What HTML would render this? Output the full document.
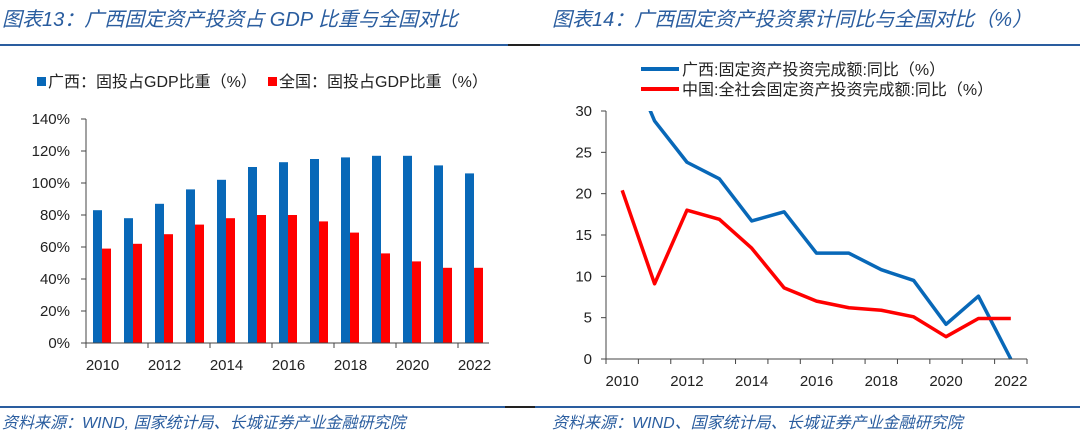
<!DOCTYPE html>
<html><head><meta charset="utf-8">
<style>
body{margin:0;width:1080px;height:435px;background:#fff;overflow:hidden;font-family:"Liberation Sans","Noto Sans CJK SC",sans-serif;}
.t{position:absolute;font-style:italic;color:#2a5d9f;font-size:20px;white-space:nowrap;}
.f{position:absolute;font-style:italic;color:#2a5d9f;font-size:16px;white-space:nowrap;}
</style></head><body>
<div class="t" style="left:2px;top:3px">图表13：广西固定资产投资占 GDP 比重与全国对比</div>
<div class="t" style="left:552px;top:3px">图表14：广西固定资产投资累计同比与全国对比（%）</div>
<div style="position:absolute;left:0;top:44px;width:1080px;height:2px;background:#2a5d9f"></div>
<div style="position:absolute;left:508px;top:44px;width:32px;height:2px;background:#222"></div>
<div style="position:absolute;left:0;top:406px;width:1080px;height:2px;background:#2a5d9f"></div>
<div style="position:absolute;left:505px;top:406px;width:30px;height:2px;background:#222"></div>
<div class="f" style="left:2px;top:409px">资料来源：WIND, 国家统计局、长城证券产业金融研究院</div>
<div class="f" style="left:552px;top:409px">资料来源：WIND、国家统计局、长城证券产业金融研究院</div>
<svg id="svg" width="1080" height="435" style="position:absolute;left:0;top:0" font-family="Liberation Sans, Noto Sans CJK SC, sans-serif"></svg>
<script>
const years=[2010,2011,2012,2013,2014,2015,2016,2017,2018,2019,2020,2021,2022];
const gxShare=[83,78,87,96,102,110,113,115,116,117,117,111,106];
const cnShare=[59,62,68,74,78,80,80,76,69,56,51,47,47];
const leftTicks=[0,20,40,60,80,100,120,140];
const gxGrowth=[38,28.8,23.8,21.8,16.7,17.8,12.8,12.8,10.8,9.5,4.2,7.6,0];
const cnGrowth=[20.4,9.1,18,16.9,13.4,8.6,7,6.2,5.9,5.1,2.7,4.9,4.9];
const rightTicks=[0,5,10,15,20,25,30];
const NS='http://www.w3.org/2000/svg',svg=document.getElementById('svg');
function mk(t,a,p){const e=document.createElementNS(NS,t);for(const k in a)e.setAttribute(k,a[k]);(p||svg).appendChild(e);return e;}
const L={x0:86,x1:489,y0:343,y1:119,max:140};
const lx=i=>L.x0+(L.x1-L.x0)/years.length*i, lw=(L.x1-L.x0)/years.length;
const ly=v=>L.y0-(L.y0-L.y1)*v/L.max;
const lg=mk('g',{});

leftTicks.forEach(v=>{mk('line',{x1:L.x0-5,x2:L.x0,y1:ly(v),y2:ly(v),stroke:'#444'},lg);
 const t=mk('text',{x:L.x0-16,y:ly(v)+5,'text-anchor':'end','font-size':15,fill:'#222'},lg);t.textContent=v+'%';
 });
years.forEach((y,i)=>{
 const b=mk('rect',{x:lx(i)+7,y:ly(gxShare[i]),width:9,height:L.y0-ly(gxShare[i]),fill:'#0868b8'},lg);
 
 const r=mk('rect',{x:lx(i)+16,y:ly(cnShare[i]),width:9,height:L.y0-ly(cnShare[i]),fill:'#ff0000'},lg);
 
 if(i%2==0){mk('line',{x1:lx(i),x2:lx(i),y1:L.y0,y2:L.y0+5,stroke:'#444'},lg);
  const t=mk('text',{x:lx(i)+lw/2+1,y:L.y0+27,'text-anchor':'middle','font-size':15,fill:'#222'},lg);t.textContent=y;
  }
});
mk('line',{x1:L.x0,x2:L.x0,y1:L.y1,y2:L.y0,stroke:'#444'},lg);
mk('line',{x1:L.x0,x2:L.x1,y1:L.y0,y2:L.y0,stroke:'#444'},lg);
const leg1=mk('g',{});
mk('rect',{x:37,y:77,width:9,height:9,fill:'#0868b8'},leg1);
let tt=mk('text',{x:48,y:87,'font-size':16,fill:'#222'},leg1);tt.textContent='广西：固投占GDP比重（%）';
mk('rect',{x:268,y:77,width:9,height:9,fill:'#ff0000'},leg1);
tt=mk('text',{x:279,y:87,'font-size':16,fill:'#222'},leg1);tt.textContent='全国：固投占GDP比重（%）';
const R={x0:606,x1:1027,y0:359,y1:111,max:30};
const rw=(R.x1-R.x0)/years.length, rx=i=>R.x0+rw*(i+0.5), ry=v=>R.y0-(R.y0-R.y1)*v/R.max;
const rg=mk('g',{});
rightTicks.forEach(v=>{mk('line',{x1:R.x0-5,x2:R.x0,y1:ry(v),y2:ry(v),stroke:'#444'},rg);
 const t=mk('text',{x:R.x0-14,y:ry(v)+5,'text-anchor':'end','font-size':15,fill:'#222'},rg);t.textContent=v;
 });
for(let i=0;i<=years.length;i++)mk('line',{x1:R.x0+rw*i,x2:R.x0+rw*i,y1:R.y0,y2:R.y0+5,stroke:'#444'},rg);
years.forEach((y,i)=>{if(i%2==0){const t=mk('text',{x:rx(i),y:R.y0+27,'text-anchor':'middle','font-size':15,fill:'#222'},rg);t.textContent=y;
 }});
mk('defs',{}).innerHTML='<clipPath id="cp"><rect x="606" y="111" width="430" height="252"/></clipPath>';
const p1=mk('polyline',{points:gxGrowth.map((v,i)=>rx(i)+','+ry(v)).join(' '),fill:'none',stroke:'#0868b8','stroke-width':3.5,'stroke-linejoin':'round','clip-path':'url(#cp)'},rg);

const p2=mk('polyline',{points:cnGrowth.map((v,i)=>rx(i)+','+ry(v)).join(' '),fill:'none',stroke:'#ff0000','stroke-width':3.5,'stroke-linejoin':'round'},rg);

mk('line',{x1:R.x0,x2:R.x0,y1:R.y1,y2:R.y0,stroke:'#444'},rg);
mk('line',{x1:R.x0,x2:R.x1,y1:R.y0,y2:R.y0,stroke:'#444'},rg);
const leg2=mk('g',{});
mk('line',{x1:641,x2:679,y1:69,y2:69,stroke:'#0868b8','stroke-width':4},leg2);
tt=mk('text',{x:682,y:75,'font-size':16,fill:'#222'},leg2);tt.textContent='广西:固定资产投资完成额:同比（%）';
mk('line',{x1:641,x2:679,y1:89,y2:89,stroke:'#ff0000','stroke-width':4},leg2);
tt=mk('text',{x:682,y:95,'font-size':16,fill:'#222'},leg2);tt.textContent='中国:全社会固定资产投资完成额:同比（%）';
</script>
</body></html>
